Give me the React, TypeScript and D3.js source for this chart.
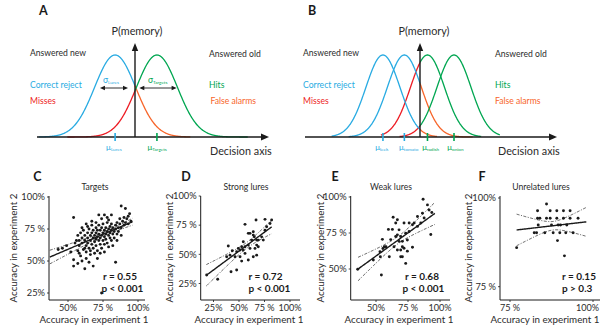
import React from "react";
import * as d3 from "d3";

const FONT = "Lato, 'Noto Sans', sans-serif";
const BLUE = "#29abe2";
const RED = "#ed1c24";
const GREEN = "#00a651";
const ORANGE = "#f7652a";
const INK = "#1a1a1a";
const GREY = "#2b2b2b";

// ---------- Panels A and B (signal detection model, units of sigma) ----------
const namesA = ["Lures", "Targets"];
const meansA = [-0.97, 1.07];
const kindsA = ["lure", "target"];
const extentsA = [[-4.7, 2.7], [-3.3, 5.5]];
const sigmaArrowsA = [[-1.71, -0.34], [0.21, 2.03]];
const sigmaLabelStartA = [-1.56, 0.63];

const namesB = ["leek", "tomato", "radish", "onion"];
const meansB = [-2.18, -0.92, 0.44, 2.0];
const kindsB = ["lure", "lure", "target", "target"];
const extentsB = [[-5.2, 1.0], [-4.2, 3.1], [-2.3, 3.6], [-1.2, 4.7]];

// ---------- Panel C: Targets ----------
const pointsC: number[][] = [
  [54, 84], [84, 49], [74, 25], [54, 46], [54, 51], [68, 46], [65, 49], [43, 59], [49, 62],
  [88, 93], [91, 91], [94, 87], [95, 81], [93, 79], [72, 86], [76, 86], [81, 86], [79, 82],
  [63, 79], [46, 60], [52, 57], [58, 56], [60, 50], [62, 44], [57, 48],
  [56, 66], [57, 70], [58, 62], [59, 72], [60, 68], [60, 64], [61, 59], [61, 74], [62, 66],
  [62, 70], [63, 62], [63, 57], [64, 72], [64, 68], [64, 64], [65, 60], [65, 75], [66, 70],
  [66, 66], [66, 55], [67, 72], [67, 63], [67, 78], [68, 68], [68, 60], [68, 74], [69, 65],
  [69, 70], [69, 56], [70, 72], [70, 67], [70, 62], [70, 76], [71, 69], [71, 74], [71, 58],
  [72, 66], [72, 71], [72, 78], [73, 63], [73, 68], [73, 74], [74, 70], [74, 60], [74, 76],
  [75, 66], [75, 72], [75, 79], [76, 69], [76, 63], [76, 74], [77, 71], [77, 67], [77, 76],
  [78, 73], [78, 64], [78, 80], [79, 70], [79, 75], [80, 68], [80, 72], [80, 77], [81, 74],
  [81, 66], [81, 79], [82, 71], [82, 76], [83, 73], [83, 68], [84, 78], [84, 75], [85, 71],
  [85, 80], [86, 76], [86, 73], [87, 79], [87, 83], [88, 76], [89, 81], [90, 78], [90, 84],
  [91, 80], [92, 83], [93, 85], [62, 60], [58, 66], [55, 64], [57, 58], [59, 54], [63, 52],
  [66, 58], [71, 52], [73, 56], [76, 57], [79, 61], [82, 62], [85, 66], [88, 70], [67, 81],
  [70, 80], [74, 83], [78, 84], [64, 77], [60, 76],
];
const fitC = [35.8, 0.467];
const fitRangeC = [37, 96];
const ciC = [78, 1.5, 0.125];
const xTicksC = [50, 75, 100];
const xTickLabelsC = ["50%", "75 %", "100%"];
const yTicksC = [25, 50, 75, 100];
const yTickLabelsC = ["25%", "50%", "75 %", "100%"];
const statsC = ["r = 0.55", "p < 0.001"];

// ---------- Panel D: Strong lures ----------
const pointsD: number[][] = [
  [18.3, 32.3], [29.1, 28.6], [42.2, 35.1], [47.7, 36.6], [55.9, 75.7], [66.7, 79.4], [82, 79.4],
  [39.5, 57.1], [43.4, 53.1], [59.1, 68], [60.8, 68], [64, 69.3], [65, 65], [67.3, 62.2],
  [68.9, 62.2], [62.4, 62.2], [54.2, 60.8], [52.6, 56.5], [55.9, 56.5], [59.1, 57.9],
  [60.8, 55.1], [65.7, 55.1], [68.9, 56.5], [47.7, 52.2], [41.2, 49.3], [37.9, 47.9],
  [46.1, 47.9], [51, 47.9], [55.9, 50.8], [59.1, 45.1], [52.6, 44.2], [64, 47.9], [67.3, 49.3],
  [72.2, 65], [75.5, 70.7], [77.1, 73.6], [80.4, 76.4], [73.8, 62.2], [64, 66.5], [67.3, 57.9],
  [49.3, 55.1], [51, 53.7], [54.2, 53.7], [75.5, 80],
];
const fitD = [20.4, 0.648];
const fitRangeD = [18, 82];
const ciD = [58, 2.5, 0.22];
const xTicksD = [25, 50, 75, 100];
const xTickLabelsD = ["25%", "50%", "75 %", "100%"];
const yTicksD = [25, 50, 75, 100];
const yTickLabelsD = ["25%", "50%", "75 %", "100%"];
const statsD = ["r = 0.72", "p < 0.001"];

// ---------- Panel E: Weak lures ----------
const pointsE: number[][] = [
  [35.7, 49.8], [47.9, 56.2], [53.1, 62], [54.2, 45.8], [53.4, 58.5], [55.4, 64.2], [55, 70.6],
  [59.7, 77.5], [62.8, 77.5], [61.5, 70.4], [56.5, 65.5], [57.8, 65.5], [60.4, 58.5],
  [63.4, 85.9], [65.4, 81.9], [66.7, 84.2], [68, 77.2], [69.3, 72.6], [65.4, 72.6], [66.7, 73.7],
  [68, 69.2], [70.6, 69.2], [64.1, 65.5], [66.7, 63.2], [71.9, 64.4], [69.3, 58.5], [70.6, 58.5],
  [73.2, 53.9], [70.6, 65.5], [74.5, 70.1], [73.2, 74.8], [75.9, 76], [71.9, 81.9], [75.9, 81.9],
  [78.5, 80.7], [79.8, 81.9], [82.4, 79.6], [78.5, 65.1], [85, 81.9], [82.4, 86.5], [86.3, 88.8],
  [87.6, 85.4], [86.8, 98.4], [90.2, 94.5], [91.5, 91], [93.6, 89.2], [92.8, 74], [74.5, 62.4],
  [69.3, 63.2],
];
const fitE = [26.8, 0.644];
const fitRangeE = [36, 96];
const ciE = [67, 2.5, 0.25];
const xTicksE = [50, 75, 100];
const xTickLabelsE = ["50%", "75 %", "100%"];
const yTicksE = [50, 75, 100];
const yTickLabelsE = ["50%", "75 %", "100%"];
const statsE = ["r = 0.68", "p < 0.001"];

// ---------- Panel F: Unrelated lures ----------
const pointsF: number[][] = [
  [77, 86], [86, 98.3], [83.3, 96.4], [87.1, 96.4], [89.1, 96.4], [91.1, 96.4], [93.1, 96.4],
  [83.3, 94.3], [84, 94.3], [86, 94.3], [87.1, 94.3], [89.1, 94.3], [91.1, 94.3], [93.1, 94.3],
  [95.5, 94.3], [83.5, 92.4], [87.5, 92.4], [89.5, 92.4], [90.2, 92.4], [92.1, 92.4],
  [82.3, 90.2], [83, 90.2], [85.5, 90.2], [88, 90.2], [90, 90.2], [91.8, 90.2], [94, 90.2],
  [89.3, 88], [91.4, 83.7],
];
const fitF = [82.6, 0.109];
const fitRangeF = [77, 98];
const ciF = [88, 1.2, 0.39];
const xTicksF = [75, 100];
const xTickLabelsF = ["75 %", "100%"];
const yTicksF = [75, 100];
const yTickLabelsF = ["75 %", "100%"];
const statsF = ["r = 0.15", "p > 0.3"];

const gauss = (v: number, m: number) => Math.exp(-0.5 * (v - m) * (v - m));

function samples(lo: number, hi: number, step = 0.02) {
  const arr = d3.range(lo, hi, step);
  arr.push(hi);
  return arr;
}

function ModelPanel(props: any) {
  const { zeroPx, unitPx, means, kinds, extents, names, axisStart, axisEnd, letter, letterX,
    pmemX, leftX, rightX, muOffsets, sigma } = props;
  const xs = d3.scaleLinear().domain([0, 1]).range([zeroPx, zeroPx + unitPx]);
  const ys = d3.scaleLinear().domain([0, 1]).range([137, 55]);
  const baseY = ys(0);
  const segs: any[] = [];
  means.forEach((m: number, i: number) => {
    const a = extents[i][0];
    const b = extents[i][1];
    const leftCol = kinds[i] === "lure" ? BLUE : RED;
    const rightCol = kinds[i] === "lure" ? ORANGE : GREEN;
    if (a < 0) segs.push({ pts: samples(a, Math.min(0, b)), m, col: leftCol, key: `l${i}` });
    if (b > 0) segs.push({ pts: samples(Math.max(0, a), b), m, col: rightCol, key: `r${i}` });
  });
  const order = (s: any) => (s.col === BLUE || s.col === GREEN ? 1 : 0);
  segs.sort((p, q) => order(p) - order(q));
  const topY = 43;
  return (
    <g fontFamily={FONT}>
      <text x={letterX} y={15} fontSize={12.5} fontWeight="bold" fill={INK} textAnchor="middle">{letter}</text>
      <text x={pmemX} y={35} fontSize={10.8} fill={GREY} textAnchor="middle">P(memory)</text>
      <text x={leftX} y={55.5} fontSize={8.6} fill={GREY}>Answered new</text>
      <text x={leftX} y={87.5} fontSize={8.6} fill={BLUE}>Correct reject</text>
      <text x={leftX} y={103.5} fontSize={8.6} fill={RED}>Misses</text>
      <text x={rightX} y={57} fontSize={8.6} fill={GREY}>Answered old</text>
      <text x={rightX} y={87.5} fontSize={8.6} fill={GREEN}>Hits</text>
      <text x={rightX + (letter === "A" ? 1.5 : 0)} y={103.5} fontSize={8.6} fill={ORANGE}>False alarms</text>
      <text x={axisEnd - 59} y={155} fontSize={10.8} fill={GREY}>Decision axis</text>
      {segs.map((s) => (
        <path key={s.key}
          d={d3.line<number>().x((v) => xs(v)).y((v) => ys(gauss(v, s.m)))(s.pts) || ""}
          fill="none" stroke={s.col} strokeWidth={1.3} />
      ))}
      <line x1={axisStart} x2={axisEnd - 6} y1={baseY} y2={baseY} stroke={INK} strokeWidth={1.4} />
      <path d={`M${axisEnd},${baseY} L${axisEnd - 8},${baseY - 3.6} L${axisEnd - 8},${baseY + 3.6} Z`} fill={INK} />
      <line x1={xs(0)} x2={xs(0)} y1={baseY} y2={topY + 5} stroke={INK} strokeWidth={1.4} />
      <path d={`M${xs(0)},${topY} L${xs(0) - 3.2},${topY + 8} L${xs(0) + 3.2},${topY + 8} Z`} fill={INK} />
      {means.map((m: number, i: number) => {
        const col = kinds[i] === "lure" ? BLUE : GREEN;
        return (
          <g key={`mu${i}`}>
            <line x1={xs(m)} x2={xs(m)} y1={133} y2={141} stroke={col} strokeWidth={1.6} />
            <text x={xs(m) - muOffsets[i]} y={150} fontSize={8} fill={col}>
              μ<tspan fontSize={4.6} dy={1.2}>{names[i]}</tspan>
            </text>
          </g>
        );
      })}
      {sigma && sigma.arrows.map((ar: number[], i: number) => {
        const col = kinds[i] === "lure" ? BLUE : GREEN;
        const x1 = xs(ar[0]);
        const x2 = xs(ar[1]);
        const yy = 88;
        return (
          <g key={`sg${i}`}>
            <line x1={x1 + 3} x2={x2 - 3} y1={yy} y2={yy} stroke={INK} strokeWidth={0.9} />
            <path d={`M${x1},${yy} L${x1 + 5},${yy - 2.3} L${x1 + 5},${yy + 2.3} Z`} fill={INK} />
            <path d={`M${x2},${yy} L${x2 - 5},${yy - 2.3} L${x2 - 5},${yy + 2.3} Z`} fill={INK} />
            <text x={xs(sigma.labels[i])} y={83} fontSize={8.5} fill={col}>
              σ<tspan fontSize={4.6} dy={1.2}>{names[i]}</tspan>
            </text>
          </g>
        );
      })}
    </g>
  );
}

function Scatter(props: any) {
  const { pts, fit, fitRange, ci, xDom, xRng, yDom, yRng, frame, xTicks, xTickLabels, yTicks,
    yTickLabels, title, titleX, stats, statsX, letter, letterX, xTitleX, yTitleX } = props;
  const [left, right, top, bottom] = frame;
  const x = d3.scaleLinear().domain(xDom).range(xRng);
  const y = d3.scaleLinear().domain(yDom).range(yRng);
  const vs = samples(fitRange[0], fitRange[1], (fitRange[1] - fitRange[0]) / 80);
  const yhat = (v: number) => fit[0] + fit[1] * v;
  const hw = (v: number) => Math.sqrt(ci[1] * ci[1] + (ci[2] * (v - ci[0])) ** 2);
  const mk = (f: (v: number) => number) =>
    d3.line<number>().x((v) => x(v)).y((v) => y(f(v)))(vs) || "";
  const maxLabelX = 600 - 12.5;
  return (
    <g fontFamily={FONT} fill={INK}>
      <text x={letterX} y={180.5} fontSize={12.5} fontWeight="bold" textAnchor="middle">{letter}</text>
      <text x={titleX} y={190} fontSize={8.6} textAnchor="middle" fill={GREY}>{title}</text>
      <line x1={left} x2={left} y1={top} y2={bottom} stroke={INK} strokeWidth={1} />
      <line x1={left} x2={right} y1={bottom} y2={bottom} stroke={INK} strokeWidth={1} />
      {yTicks.map((t: number, i: number) => (
        <g key={`yt${i}`}>
          <line x1={left - 2} x2={left} y1={y(t)} y2={y(t)} stroke={INK} strokeWidth={0.8} />
          <text x={left - 4} y={y(t)} dy="0.35em" fontSize={9.3} textAnchor="end" fill={GREY}>{yTickLabels[i]}</text>
        </g>
      ))}
      {xTicks.map((t: number, i: number) => (
        <g key={`xt${i}`}>
          <line x1={x(t)} x2={x(t)} y1={bottom} y2={bottom + 2} stroke={INK} strokeWidth={0.8} />
          <text x={Math.min(x(t), maxLabelX)} y={310.5} fontSize={9.1} textAnchor="middle" fill={GREY}>{xTickLabels[i]}</text>
        </g>
      ))}
      <text x={xTitleX} y={323} fontSize={9.8} textAnchor="middle" fill={GREY}>Accuracy in experiment 1</text>
      <text transform={`translate(${yTitleX},248) rotate(-90)`} fontSize={9.8} textAnchor="middle" fill={GREY}>
        Accuracy in experiment 2
      </text>
      {pts.map((p: number[], i: number) => (
        <circle key={i} cx={x(p[0])} cy={y(p[1])} r={1.45} fill={INK} />
      ))}
      <path d={mk((v) => yhat(v) + hw(v))} fill="none" stroke={INK} strokeWidth={0.7} strokeDasharray="3 1.5 1 1.5" />
      <path d={mk((v) => yhat(v) - hw(v))} fill="none" stroke={INK} strokeWidth={0.7} strokeDasharray="3 1.5 1 1.5" />
      <path d={mk(yhat)} fill="none" stroke={INK} strokeWidth={1.4} />
      <text x={statsX[0]} y={280} fontSize={10} fontWeight="bold">{stats[0]}</text>
      <text x={statsX[1]} y={291.5} fontSize={10} fontWeight="bold">{stats[1]}</text>
    </g>
  );
}

export default function App() {
  return (
    <svg width={600} height={329} style={{ position: "absolute", left: 0, top: 0, background: "#fff" }}>
      <rect width={600} height={329} fill="#fff" />
      <ModelPanel zeroPx={135} unitPx={20.5} means={meansA} kinds={kindsA} extents={extentsA}
        names={namesA} axisStart={37} axisEnd={269} letter="A" letterX={43.3} pmemX={137}
        leftX={30} rightX={209} muOffsets={[9, 9.4]}
        sigma={{ arrows: sigmaArrowsA, labels: sigmaLabelStartA }} />
      <ModelPanel zeroPx={420} unitPx={17} means={meansB} kinds={kindsB} extents={extentsB}
        names={namesB} axisStart={305} axisEnd={557} letter="B" letterX={312} pmemX={424}
        leftX={303} rightX={495} muOffsets={[7.7, 5.3, 5.3, 6.7]} sigma={null} />
      <Scatter pts={pointsC} fit={fitC} fitRange={fitRangeC} ci={ciC}
        xDom={[50, 100]} xRng={[68, 138]} yDom={[25, 100]} yRng={[293, 197]} frame={[49, 145, 196, 300]}
        xTicks={xTicksC} xTickLabels={xTickLabelsC} yTicks={yTicksC} yTickLabels={yTickLabelsC}
        title="Targets" titleX={95} stats={statsC} statsX={[103, 101.5]} letter="C" letterX={37.5}
        xTitleX={94} yTitleX={16.5} />
      <Scatter pts={pointsD} fit={fitD} fitRange={fitRangeD} ci={ciD}
        xDom={[25, 100]} xRng={[213.5, 290]} yDom={[25, 100]} yRng={[283.5, 196]} frame={[200.7, 300, 196, 300]}
        xTicks={xTicksD} xTickLabels={xTickLabelsD} yTicks={yTicksD} yTickLabels={yTickLabelsD}
        title="Strong lures" titleX={246} stats={statsD} statsX={[248.5, 248.5]} letter="D" letterX={186}
        xTitleX={249} yTitleX={173.3} />
      <Scatter pts={pointsE} fit={fitE} fitRange={fitRangeE} ci={ciE}
        xDom={[50, 100]} xRng={[376, 440]} yDom={[50, 100]} yRng={[269, 197]} frame={[350.7, 450, 196, 300]}
        xTicks={xTicksE} xTickLabels={xTickLabelsE} yTicks={yTicksE} yTickLabels={yTickLabelsE}
        title="Weak lures" titleX={391} stats={statsE} statsX={[405, 402.5]} letter="E" letterX={335}
        xTitleX={399} yTitleX={324} />
      <Scatter pts={pointsF} fit={fitF} fitRange={fitRangeF} ci={ciF}
        xDom={[75, 100]} xRng={[510, 593]} yDom={[75, 100]} yRng={[286.7, 198]} frame={[500, 600, 196, 300]}
        xTicks={xTicksF} xTickLabels={xTickLabelsF} yTicks={yTicksF} yTickLabels={yTickLabelsF}
        title="Unrelated lures" titleX={541} stats={statsF} statsX={[562, 562]} letter="F" letterX={482}
        xTitleX={545} yTitleX={472.3} />
</svg>
  );
}
